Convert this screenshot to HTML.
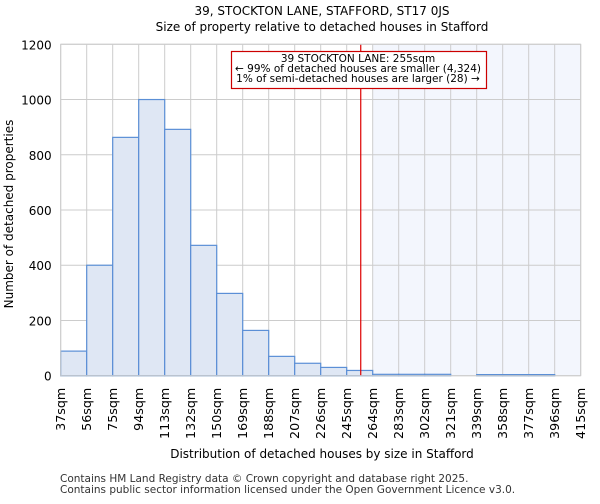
<!DOCTYPE html>
<html><head><meta charset="utf-8"><style>
body{margin:0;background:#fff;font-family:"DejaVu Sans","Liberation Sans",sans-serif}
svg text{font-family:"DejaVu Sans","Liberation Sans",sans-serif}
</style></head><body>
<svg id="c" width="600" height="500">
<text x="322" y="15" font-size="12" text-anchor="middle">39, STOCKTON LANE, STAFFORD, ST17 0JS</text>
<text x="322" y="31" font-size="12" text-anchor="middle">Size of property relative to detached houses in Stafford</text>
<g id="g"></g>
<text x="322" y="458" font-size="12" text-anchor="middle">Distribution of detached houses by size in Stafford</text>
<text transform="translate(13,214) rotate(-90)" font-size="12" text-anchor="middle">Number of detached properties</text>
<text x="60" y="482" font-size="10.5" fill="#333">Contains HM Land Registry data © Crown copyright and database right 2025.</text>
<text x="60" y="493" font-size="10.5" fill="#333">Contains public sector information licensed under the Open Government Licence v3.0.</text>
</svg>
<script>
const categories=["37sqm","56sqm","75sqm","94sqm","113sqm","132sqm","150sqm","169sqm","188sqm","207sqm","226sqm","245sqm","264sqm","283sqm","302sqm","321sqm","339sqm","358sqm","377sqm","396sqm","415sqm"];
const counts=[89,400,863,1000,892,472,298,164,70,45,30,19,5,5,5,0,4,4,4,0];
const yTicks=[0,200,400,600,800,1000,1200];
const markerBin=11.54;
const L=60.7,R=580.7,T=44.3,B=375.7,ymax=1200;
const n=counts.length,bw=(R-L)/n;
const xs=i=>L+i*bw, ys=v=>B-(v/ymax)*(B-T);
const g=document.getElementById('g'),NS="http://www.w3.org/2000/svg";
function mk(t,a){const e=document.createElementNS(NS,t);for(const k in a)e.setAttribute(k,a[k]);g.appendChild(e);return e;}
const mx=xs(markerBin), shadeStart=xs(Math.ceil(markerBin));
let e=mk('rect',{x:shadeStart,y:T,width:R-shadeStart,height:B-T,fill:'#f3f6fd'});


yTicks.forEach(v=>{const l=mk('line',{x1:L,x2:R,y1:ys(v),y2:ys(v),stroke:'#ccc','stroke-width':1});


const t=mk('text',{x:L-9,y:ys(v)+5,'font-size':12,'text-anchor':'end'});t.textContent=v;

});
categories.forEach((c,i)=>{const l=mk('line',{x1:xs(i),x2:xs(i),y1:T,y2:B,stroke:'#ccc','stroke-width':1});


const t=mk('text',{transform:`translate(${xs(i)+4.5},${B+12}) rotate(-90)`,'font-size':12.7,'text-anchor':'end'});t.textContent=c;

});
counts.forEach((v,i)=>{if(v<=0)return;const r=mk('rect',{x:xs(i),y:ys(v),width:bw,height:B-ys(v),fill:'#dfe7f4',stroke:'#5b8fd6','stroke-width':1.2});

});
e=mk('line',{x1:mx,x2:mx,y1:T,y2:B,stroke:'#d00','stroke-width':1.2});


e=mk('rect',{x:231.5,y:51.5,width:255,height:37,fill:'#fff',stroke:'#c00','stroke-width':1.2});


["39 STOCKTON LANE: 255sqm","← 99% of detached houses are smaller (4,324)","1% of semi-detached houses are larger (28) →"].forEach((s,k)=>{const t=mk('text',{x:358,y:62+k*10,'font-size':10.5,'text-anchor':'middle'});t.textContent=s;

});
e=mk('rect',{x:L,y:T,width:R-L,height:B-T,fill:'none',stroke:'#ccc'});


</script>
</body></html>
